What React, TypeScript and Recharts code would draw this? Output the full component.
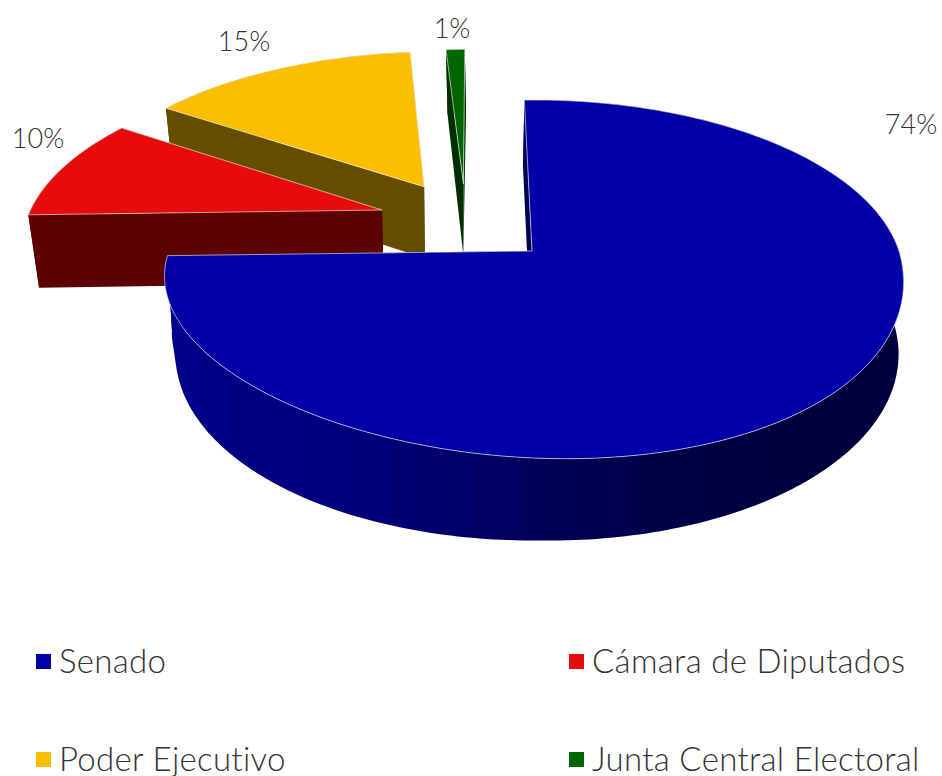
import React from "react";
import { PieChart, Pie, Legend } from "recharts";

const categories = ["Senado", "Cámara de Diputados", "Poder Ejecutivo", "Junta Central Electoral"];
const shares = [75.0, 9.7, 14.3, 1.0];
const shareLabels = ["74%", "10%", "15%", "1%"];
const topColors = ["#0000A6", "#E60C0C", "#FCBE00", "#006600"];
const wallColors = ["#000050", "#5C0202", "#664E00", "#003000"];

// Style constants: slice explosion in plan coordinates (unit = pie radius)
const explode: [number, number][] = [[0.0055, 0], [-0.4265, -0.2436], [-0.3135, -0.39], [-0.195, -0.41]];
const apexNudge: [number, number][] = [[-0.0055, 0], [0, 0], [0, 0], [-0.005, 0]];
const labelAnchors: [number, number][] = [[911, 134], [38, 148], [244, 51], [452, 38]];

const table = categories
  .map((name, i) => ({ name, value: shares[i], fill: topColors[i], order: i }))
  .reverse();

// Perspective camera fitted to the picture
const project = (u: number, v: number, z: number, lift = 0, side = 0): [number, number] => {
  const w = 1 - 0.1564 * v + 0.0225 * z;
  return [532 + (365 * u) / w + side * z, (251 + 135.4 * v + 81.7 * z) / w + lift * (1 - (lift > 0 ? 0.5 : 1) * z)];
};
const pathOf = (pts: [number, number][]) =>
  "M" + pts.map((p) => `${p[0].toFixed(2)},${p[1].toFixed(2)}`).join("L") + "Z";

type PlanPoint = [number, number, number, number];

const bottomDrift = (c: number, s: number) =>
  c >= 0
    ? 1.5 * (2 * c * c - 1) + 2 * Math.pow(c, 4)
    : c * c * (3 - 7 * Math.exp(-Math.pow(s / 0.12, 2))) - 1.5 * (1 - c * c);

const SliceShape = (props: any) => {
  const { startAngle, endAngle, payload } = props;
  const order: number = payload?.order ?? props.order;
  const [ox, oy] = explode[order];
  const rad = Math.PI / 180;
  const steps = Math.max(2, Math.ceil(Math.abs(endAngle - startAngle)));
  const arc: PlanPoint[] = [];
  for (let i = 0; i <= steps; i++) {
    const a = (startAngle + ((endAngle - startAngle) * i) / steps) * rad;
    const c = Math.cos(a);
    const s = -Math.sin(a);
    const lift = order === 0 ? 18 * c * Math.max(s, 0) : 0;
    const side = order === 0 ? bottomDrift(c, s) : 0;
    arc.push([ox + c, oy + s, lift, side]);
  }
  const at = (p: PlanPoint, z: number) => project(p[0], p[1], z, p[2], p[3]);
  const apex: PlanPoint = [ox + apexNudge[order][0], oy + apexNudge[order][1], 0, -1.5];
  const top = pathOf([at(apex, 0), ...arc.map((p) => at(p, 0))]);
  const rim = pathOf([...arc.map((p) => at(p, 0)), ...arc.slice().reverse().map((p) => at(p, 1))]);
  const e1 = pathOf([at(apex, 0), at(arc[0], 0), at(arc[0], 1), at(apex, 1)]);
  const e2 = pathOf([at(apex, 0), at(arc[steps], 0), at(arc[steps], 1), at(apex, 1)]);
  const wall = wallColors[order];
  const rimFill = order === 0 ? "url(#senadoRim)" : wall;
  return (
    <g>
      {order === 0 && (
        <defs>
          <linearGradient id="senadoRim" gradientUnits="userSpaceOnUse" x1="165" y1="0" x2="900" y2="0">
            <stop offset="0" stopColor="#00008A" />
            <stop offset="0.25" stopColor="#00007C" />
            <stop offset="0.39" stopColor="#00006C" />
            <stop offset="0.52" stopColor="#000058" />
            <stop offset="0.66" stopColor="#000048" />
            <stop offset="0.86" stopColor="#00003E" />
            <stop offset="1" stopColor="#00003E" />
          </linearGradient>
        </defs>
      )}
      <path d={e1} fill={wall} stroke="none" />
      <path d={e2} fill={wall} stroke="none" />
      <path d={rim} fill={rimFill} stroke="none" />
      <path d={top} fill={payload?.fill ?? props.fill} stroke="#fff" strokeOpacity={0.75} strokeWidth={0.8} />
    </g>
  );
};

const font = "Lato, 'Open Sans', sans-serif";

const renderLabel = (props: any) => {
  const order: number = props.order ?? props.payload?.order;
  const [x, y] = labelAnchors[order];
  return (
    <text x={x} y={y} textAnchor="middle" fontFamily={font} fontWeight={300} fontSize={27} fill="#333333">
      {shareLabels[order]}
    </text>
  );
};

const legendColumns = [36, 569];
const legendRows = [654, 752];

const LegendContent = (props: any) => {
  const payload = props.payload ?? [];
  const items = categories.map((name) => payload.find((p: any) => p.value === name)).filter(Boolean);
  return (
    <div style={{ position: "relative", width: 942, height: 776 }}>
      {items.map((it: any, i: number) => (
        <div key={it.value} style={{ position: "absolute", left: legendColumns[i % 2], top: legendRows[Math.floor(i / 2)] }}>
          <div style={{ position: "absolute", left: 0, top: 0, width: 15, height: 15, background: it.color }} />
          <div
            style={{
              position: "absolute",
              left: 23,
              top: -14,
              whiteSpace: "nowrap",
              fontFamily: font,
              fontWeight: 300,
              fontSize: 33,
              letterSpacing: 0.3,
              lineHeight: "40px",
              color: "#333333",
            }}
          >
            {it.value}
          </div>
        </div>
      ))}
    </div>
  );
};

export default function App() {
  return (
    <div style={{ position: "absolute", left: 0, top: 0, width: 942, height: 776, overflow: "hidden" }}>
      <PieChart width={942} height={776} margin={{ top: 0, right: 0, bottom: 0, left: 0 }}>
        <Pie
          data={table}
          dataKey="value"
          nameKey="name"
          cx={532}
          cy={280}
          outerRadius={365}
          startAngle={91.7}
          endAngle={451.7}
          isAnimationActive={false}
          shape={SliceShape}
          label={renderLabel}
          labelLine={false}
          legendType="square"
          stroke="none"
        />
        <Legend
          content={LegendContent}
          wrapperStyle={{ position: "absolute", left: 0, top: 0, width: 942, height: 776 }}
        />
      </PieChart>
    </div>
  );
}
